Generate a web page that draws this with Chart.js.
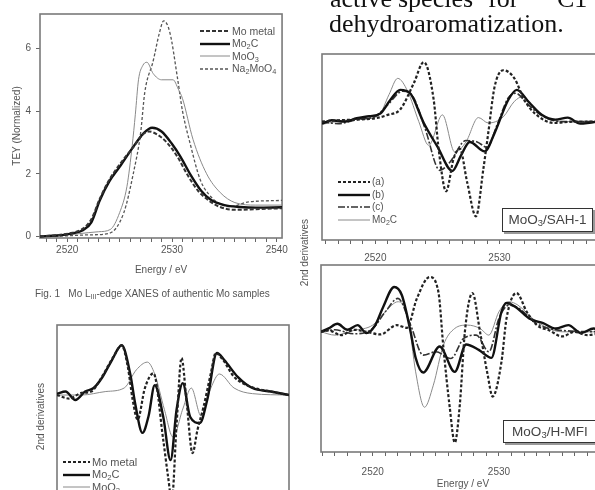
<!DOCTYPE html>
<html>
<head>
<meta charset="utf-8">
<script src="https://cdn.jsdelivr.net/npm/chart.js@4.4.1/dist/chart.umd.min.js"></script>
<style>
  html, body { margin: 0; padding: 0; background: #fff; }
  body { width: 595px; height: 490px; overflow: hidden; position: relative;
         font-family: "Liberation Sans", Arial, sans-serif; color: #555; }
  #page { position: absolute; left: 0; top: 0; width: 595px; height: 490px; filter: blur(0.45px); }
  canvas { position: absolute; }
  .abs { position: absolute; white-space: nowrap; }
  .serif { font-family: "Liberation Serif", "Times New Roman", serif; font-size: 26px; line-height: 26px; color: #111; }
  .leg { position: absolute; white-space: nowrap; line-height: 1; }
  .leg svg { vertical-align: middle; }
  .leg span { vertical-align: middle; margin-left: 2px; }
  sub { font-size: 70%; vertical-align: -2px; line-height: 0; }
  .box { position: absolute; border: 1.5px solid #333; box-shadow: 2px 2px 0 #999; background: #fff;
         font-size: 13.5px; color: #444; text-align: center; white-space: nowrap; }
  .rot { position: absolute; transform: rotate(-90deg); transform-origin: center center; white-space: nowrap; font-size: 10px; }
</style>
</head>
<body>
<div id="page">
  <div class="abs serif" style="left:330px;top:-14px">active</div>
  <div class="abs serif" style="left:398px;top:-14px">species</div>
  <div class="abs serif" style="left:488px;top:-14px">for</div>
  <div class="abs serif" style="left:557px;top:-14px">C1</div>
  <div class="abs serif" style="left:329px;top:11px">dehydroaromatization.</div>

  <canvas id="c1" width="290" height="282" style="left:0;top:0;width:290px;height:282px"></canvas>
  <canvas id="c2" width="310" height="230" style="left:300px;top:40px;width:310px;height:230px"></canvas>
  <canvas id="c3" width="310" height="240" style="left:300px;top:250px;width:310px;height:240px"></canvas>
  <canvas id="c4" width="295" height="240" style="left:0;top:300px;width:295px;height:240px"></canvas>

  <div class="abs" style="left:35px;top:288px;width:257px;overflow:hidden;font-size:10px">Fig. 1&nbsp;&nbsp; Mo L<sub>III</sub>-edge XANES of authentic Mo samples</div>

  <div class="rot" style="left:264px;top:247px;width:80px;text-align:center">2nd derivatives</div>
  <div class="rot" style="left:0px;top:411px;width:80px;text-align:center">2nd derivatives</div>

  <div class="box" style="left:502px;top:208px;width:89px;height:22px;line-height:22px">MoO<sub>3</sub>/SAH-1</div>
  <div class="box" style="left:503px;top:420px;width:92px;height:21px;line-height:21px">MoO<sub>3</sub>/H-MFI</div>
</div>

<script>
// ---------- Fig. 1: Mo L3-edge XANES (top left) ----------
const xanesLabels = ['Mo metal', 'Mo<sub>2</sub>C', 'MoO<sub>3</sub>', 'Na<sub>2</sub>MoO<sub>4</sub>'];
const xanesTicksX = [2520, 2530, 2540];
const xanesTicksY = [0, 2, 4, 6];

const moMetalE = [2517.4, 2519, 2520.5, 2521.5, 2522.3, 2523.1, 2524, 2525, 2526.3, 2527.2, 2527.8, 2528.6, 2529.5, 2530.5, 2531.5, 2532.5, 2533.5, 2534.5, 2536, 2538, 2540.5];
const moMetalTey = [0, 0.04, 0.12, 0.25, 0.55, 1.2, 1.8, 2.3, 2.85, 3.25, 3.35, 3.25, 3.0, 2.55, 1.95, 1.45, 1.15, 0.95, 0.85, 0.87, 0.9];

const mo2cE = [2517.4, 2519, 2520.5, 2521.5, 2522.3, 2523.1, 2524, 2525, 2526.3, 2527.3, 2528.1, 2529, 2530, 2530.8, 2531.8, 2532.8, 2533.7, 2535, 2536.5, 2538, 2540.5];
const mo2cTey = [0, 0.03, 0.1, 0.2, 0.45, 1.15, 1.75, 2.22, 2.86, 3.3, 3.47, 3.35, 2.95, 2.55, 1.95, 1.45, 1.17, 1.0, 0.94, 0.92, 0.93];

const moo3E = [2517.4, 2520, 2522, 2523, 2524.1, 2525, 2525.7, 2526.2, 2526.5, 2526.8, 2527.2, 2527.6, 2528.2, 2529, 2530.1, 2530.6, 2531, 2532, 2533.3, 2534.6, 2536, 2538, 2540.5];
const moo3Tey = [0, 0.05, 0.12, 0.15, 0.22, 0.76, 1.6, 2.9, 3.9, 5.0, 5.45, 5.56, 5.2, 5.0, 5.0, 4.7, 4.4, 3.1, 2.0, 1.4, 1.08, 1.0, 1.0];

const na2moo4E = [2517.4, 2520, 2522, 2524, 2525.4, 2526.3, 2527, 2527.4, 2528.2, 2528.8, 2529.2, 2529.8, 2530.5, 2531, 2531.7, 2532.7, 2533.5, 2534.5, 2535.5, 2537.3, 2540.5];
const na2moo4Tey = [0, 0.02, 0.05, 0.1, 0.76, 2.0, 3.3, 4.6, 5.6, 6.5, 6.88, 6.5, 5.1, 4.0, 3.0, 1.8, 1.35, 1.05, 0.95, 1.1, 1.15];

// ---------- MoO3/SAH-1 2nd derivatives (top right) ----------
const sampleLabels = ['(a)', '(b)', '(c)', 'Mo<sub>2</sub>C'];
const derivTicksX = [2520, 2530];

const sahAE = [2515.7, 2517, 2518.5, 2520, 2521, 2522, 2523.1, 2523.9, 2524.7, 2525.1, 2525.7, 2526.3, 2526.8, 2527.4, 2528.1, 2528.7, 2529.1, 2529.6, 2530.3, 2531.2, 2532, 2532.8, 2534.4, 2536, 2538.5];
const sahA = [0, 0.02, 0.03, 0.05, 0.1, 0.18, 0.57, 0.88, 0.32, -0.41, -1.03, -0.55, -0.4, -0.9, -1.4, -0.7, -0.16, 0.51, 0.76, 0.64, 0.32, 0.13, -0.02, 0, 0];
const sahBE = [2515.7, 2516.5, 2517.5, 2518.5, 2519.5, 2520.4, 2521.2, 2522, 2522.8, 2523.9, 2525, 2526.2, 2526.9, 2527.6, 2528.8, 2529.6, 2530.7, 2531.4, 2532.4, 2533.4, 2534.5, 2535.5, 2536.5, 2538.5];
const sahB = [-0.03, 0.02, 0.0, 0.05, 0.08, 0.12, 0.32, 0.47, 0.42, -0.02, -0.37, -0.73, -0.5, -0.3, -0.44, -0.17, 0.32, 0.47, 0.28, 0.1, 0.03, 0.06, -0.03, 0.02];
const sahCE = [2515.7, 2517, 2518.5, 2520, 2521, 2522.2, 2523, 2524, 2525.2, 2526, 2527.3, 2528.2, 2529, 2529.8, 2530.7, 2531.3, 2532.3, 2533.5, 2535, 2538.5];
const sahC = [0.0, -0.03, 0.03, 0.08, 0.25, 0.45, 0.38, -0.1, -0.72, -0.6, -0.28, -0.3, -0.38, -0.05, 0.35, 0.42, 0.25, 0.08, 0.0, 0.0];
const sahMo2cE = [2515.7, 2517.5, 2519, 2520.3, 2521.1, 2521.8, 2522.6, 2523.5, 2524.3, 2525.4, 2526.4, 2527.3, 2528.3, 2529.1, 2530.3, 2531.2, 2531.9, 2532.8, 2534, 2536, 2538.5];
const sahMo2c = [-0.04, 0.02, 0.04, 0.1, 0.4, 0.64, 0.45, 0.0, -0.35, 0.1, -0.45, -0.3, 0.06, -0.02, 0.07, 0.3, 0.37, 0.2, 0.03, 0.0, 0.0];

// ---------- MoO3/H-MFI 2nd derivatives (bottom right) ----------
const mfiAE = [2515.9, 2516.5, 2517.5, 2518.5, 2519.5, 2520.6, 2521.9, 2522.7, 2523.5, 2524.5, 2525.2, 2525.6, 2526.1, 2526.5, 2526.9, 2527.3, 2527.9, 2528.5, 2529.1, 2529.5, 2530.2, 2530.6, 2531.4, 2532.2, 2533, 2534, 2535, 2536, 2537, 2538.4];
const mfiA = [0, 0.02, -0.05, 0.03, 0.0, -0.04, 0.1, 0.06, 0.5, 0.82, 0.6, -0.24, -1.13, -1.66, -1.09, 0, 0.58, 0, -0.64, -0.97, -0.45, 0.2, 0.58, 0.3, 0.1, 0.02, -0.07, 0.0, -0.05, 0.0];
const mfiBE = [2515.9, 2516.5, 2517.2, 2518, 2518.8, 2519.5, 2520.2, 2520.8, 2521.7, 2522.3, 2523, 2523.4, 2524, 2525.3, 2526.5, 2527.4, 2528.4, 2529.4, 2530.2, 2530.6, 2531.4, 2532.4, 2533.5, 2534.5, 2535.5, 2536.5, 2537.5, 2538.4];
const mfiB = [0, 0.05, 0.12, 0.03, 0.1, -0.02, 0.1, 0.36, 0.67, 0.55, 0, -0.39, -0.61, -0.22, -0.6, -0.19, -0.27, -0.39, 0.3, 0.43, 0.36, 0.2, 0.13, 0.05, 0.1, -0.02, 0.05, 0.0];
const mfiCE = [2515.9, 2517, 2518.5, 2520, 2521, 2522, 2523, 2524, 2525, 2526.2, 2527.2, 2528.2, 2529.2, 2530, 2530.8, 2531.6, 2533, 2535, 2538.4];
const mfiC = [0, 0.03, -0.03, 0.05, 0.3, 0.5, 0.1, -0.35, -0.3, -0.4, -0.1, -0.05, -0.3, 0.2, 0.4, 0.35, 0.12, 0.02, 0];
const mfiMo2cE = [2515.9, 2517, 2518.5, 2520, 2521, 2522, 2522.8, 2523.4, 2524.1, 2524.8, 2525.6, 2526.5, 2527.5, 2528.5, 2529.2, 2530, 2530.8, 2531.5, 2533, 2535, 2538.4];
const mfiMo2c = [0, -0.05, 0.02, 0.1, 0.3, 0.45, 0.2, -0.6, -1.13, -0.8, -0.2, 0.05, 0.1, 0.05, -0.05, 0.3, 0.45, 0.4, 0.15, 0.0, 0.0];

// ---------- references 2nd derivatives (bottom left) ----------
const refLabels = ['Mo metal', 'Mo<sub>2</sub>C', 'MoO<sub>3</sub>'];
const refMetalE = [2516, 2517, 2518, 2518.8, 2519.5, 2520.6, 2521.3, 2521.8, 2522.2, 2522.6, 2523.2, 2523.9, 2524.7, 2525.1, 2525.4, 2525.8, 2526.2, 2526.6, 2527.1, 2527.5, 2528, 2528.6, 2529, 2529.6, 2530.5, 2532, 2533.5, 2535];
const refMetal = [0, -0.05, 0.03, 0.05, 0.21, 0.54, 0.71, 0.4, -0.07, -0.35, 0.1, 0.31, -0.64, -1.17, -1.5, -0.4, 0.53, -0.07, -0.83, -0.5, -0.17, 0.31, 0.6, 0.5, 0.26, 0.11, 0.05, 0];
const refMo2cE = [2516, 2516.7, 2517.5, 2518.3, 2519, 2519.7, 2520.5, 2521.3, 2522, 2522.4, 2523, 2523.5, 2524, 2524.7, 2525.3, 2525.8, 2526.3, 2526.9, 2527.7, 2528.3, 2529.1, 2529.7, 2530.8, 2532, 2533.5, 2535];
const refMo2c = [0.02, 0.05, -0.07, 0.05, 0.1, 0.25, 0.5, 0.71, 0.3, -0.12, -0.54, -0.3, 0.14, -0.31, -0.93, -0.2, 0.17, -0.31, -0.4, -0.07, 0.6, 0.5, 0.26, 0.1, 0.05, 0.0];
const refMoo3E = [2516, 2518, 2520, 2521.5, 2522.5, 2523.4, 2524, 2524.8, 2525.5, 2526.3, 2527, 2527.8, 2528.6, 2529.3, 2530.5, 2532, 2535];
const refMoo3 = [0, 0.0, 0.05, 0.1, 0.36, 0.47, 0.3, -0.21, -0.6, -0.2, 0.1, -0.3, 0.1, 0.3, 0.1, 0.02, 0.0];

// line styles
const stDashBold = { borderColor: '#222', borderWidth: 2.2, borderDash: [3, 2] };
const stSolidBold = { borderColor: '#111', borderWidth: 2.4, borderDash: [] };
const stThinGray = { borderColor: '#8a8a8a', borderWidth: 1, borderDash: [] };
const stDashThin = { borderColor: '#555', borderWidth: 1.3, borderDash: [3, 2] };
const stMedium = { borderColor: '#333', borderWidth: 1.6, borderDash: [7, 2, 2, 2] };

Chart.defaults.font.family = '"Liberation Sans", Arial, sans-serif';
Chart.defaults.color = '#555';

function pts(xs, ys) { return xs.map((x, i) => ({ x: x, y: ys[i] })); }
function series(label, xs, ys, st) {
  return Object.assign({ label: label, data: pts(xs, ys), pointRadius: 0, fill: false,
    cubicInterpolationMode: 'monotone' }, st);
}
function tickCb(list) {
  return function (v) {
    const r = Math.round(v);
    return (Math.abs(v - r) < 1e-6 && list.includes(r)) ? String(r) : '';
  };
}

const framePlugin = {
  id: 'frame',
  beforeDatasetsDraw(chart) {
    const a = chart.chartArea, c = chart.ctx;
    c.save();
    c.strokeStyle = '#7a7a7a';
    c.lineWidth = 1.6;
    c.strokeRect(a.left, a.top, a.right - a.left, a.bottom - a.top);
    c.restore();
  }
};

function xAxis(min, max, labels, height, pad, title) {
  return {
    type: 'linear', min: min, max: max,
    afterFit: s => { s.height = height; },
    border: { display: false },
    grid: { drawOnChartArea: false, drawTicks: true, tickLength: 4, tickColor: '#666' },
    ticks: { stepSize: 1, autoSkip: false, includeBounds: false, maxRotation: 0, padding: pad,
             color: '#555', font: { size: 10 }, callback: tickCb(labels) },
    title: title ? { display: true, text: title, color: '#555', font: { size: 10 }, padding: { top: 0, bottom: 0 } } : { display: false }
  };
}

function baseOptions(padding, scales) {
  return {
    responsive: false, animation: false,
    layout: { padding: padding },
    plugins: { legend: { display: false }, tooltip: { enabled: false } },
    scales: scales
  };
}

// chart 1: XANES
const x1 = xAxis(2517.4, 2540.5, xanesTicksX, 44, 2, 'Energy / eV');
x1.title.padding = { top: 0, bottom: 6 };
new Chart(document.getElementById('c1'), {
  type: 'line',
  data: { datasets: [
    series(xanesLabels[0], moMetalE, moMetalTey, { borderColor: '#333', borderWidth: 2, borderDash: [4, 2] }),
    series(xanesLabels[1], mo2cE, mo2cTey, stSolidBold),
    series(xanesLabels[2], moo3E, moo3Tey, stThinGray),
    series(xanesLabels[3], na2moo4E, na2moo4Tey, stDashThin)
  ] },
  options: baseOptions({ top: 14, right: 3, left: 0, bottom: 0 }, {
    x: x1,
    y: {
      min: -0.05, max: 7.1,
      afterFit: s => { s.width = 40; },
      border: { display: false },
      grid: { drawOnChartArea: false, tickLength: 4, tickColor: '#666' },
      ticks: { stepSize: 2, includeBounds: false, padding: 5, color: '#555', font: { size: 10 },
               callback: tickCb(xanesTicksY) },
      title: { display: true, text: 'TEY (Normalized)', color: '#555', font: { size: 10 }, padding: { top: 11, bottom: 0 } }
    }
  }),
  plugins: [framePlugin]
});

// chart 2: MoO3/SAH-1
new Chart(document.getElementById('c2'), {
  type: 'line',
  data: { datasets: [
    series(sampleLabels[0], sahAE, sahA, stDashBold),
    series(sampleLabels[1], sahBE, sahB, stSolidBold),
    series(sampleLabels[2], sahCE, sahC, stMedium),
    series(sampleLabels[3], sahMo2cE, sahMo2c, stThinGray)
  ] },
  options: baseOptions({ top: 14, right: 5, left: 22, bottom: 0 }, {
    x: xAxis(2515.7, 2538.5, derivTicksX, 30, 8, null),
    y: { display: false, min: -1.75, max: 1.0 }
  }),
  plugins: [framePlugin]
});

// chart 3: MoO3/H-MFI
new Chart(document.getElementById('c3'), {
  type: 'line',
  data: { datasets: [
    series(sampleLabels[0], mfiAE, mfiA, stDashBold),
    series(sampleLabels[1], mfiBE, mfiB, stSolidBold),
    series(sampleLabels[2], mfiCE, mfiC, stMedium),
    series(sampleLabels[3], mfiMo2cE, mfiMo2c, stThinGray)
  ] },
  options: baseOptions({ top: 15, right: 5, left: 21, bottom: 0 }, {
    x: xAxis(2515.9, 2538.4, derivTicksX, 38, 10, 'Energy / eV'),
    y: { display: false, min: -1.8, max: 1.0 }
  }),
  plugins: [framePlugin]
});

// chart 4: reference compounds
new Chart(document.getElementById('c4'), {
  type: 'line',
  data: { datasets: [
    series(refLabels[0], refMetalE, refMetal, stDashBold),
    series(refLabels[1], refMo2cE, refMo2c, stSolidBold),
    series(refLabels[2], refMoo3E, refMoo3, stThinGray)
  ] },
  options: baseOptions({ top: 25, right: 6, left: 57, bottom: 0 }, {
    x: { type: 'linear', display: false, min: 2516, max: 2535 },
    y: { display: false, min: -2.07, max: 1.0 }
  }),
  plugins: [framePlugin]
});

// legends (HTML text, line samples follow dataset styles)
function addLegend(left, top, rowH, lineW, fontSize, labels, styles) {
  const page = document.getElementById('page');
  labels.forEach((lab, i) => {
    const st = styles[i];
    const d = document.createElement('div');
    d.className = 'leg';
    d.style.left = left + 'px';
    d.style.top = (top + i * rowH) + 'px';
    d.style.fontSize = fontSize + 'px';
    const dash = st.borderDash && st.borderDash.length ? ' stroke-dasharray="' + st.borderDash.join(',') + '"' : '';
    d.innerHTML = '<svg width="' + lineW + '" height="8"><line x1="0" y1="4" x2="' + lineW + '" y2="4" stroke="' +
      st.borderColor + '" stroke-width="' + st.borderWidth + '"' + dash + '/></svg><span>' + lab + '</span>';
    page.appendChild(d);
  });
}
addLegend(200, 25, 12.5, 30, 10.5, xanesLabels,
  [{ borderColor: '#333', borderWidth: 2, borderDash: [4, 2] }, stSolidBold, stThinGray, stDashThin]);
addLegend(338, 177, 12.5, 32, 10, sampleLabels, [stDashBold, stSolidBold, stMedium, stThinGray]);
addLegend(63, 456, 12.5, 27, 11, refLabels, [stDashBold, stSolidBold, stThinGray]);
</script>
</body>
</html>
